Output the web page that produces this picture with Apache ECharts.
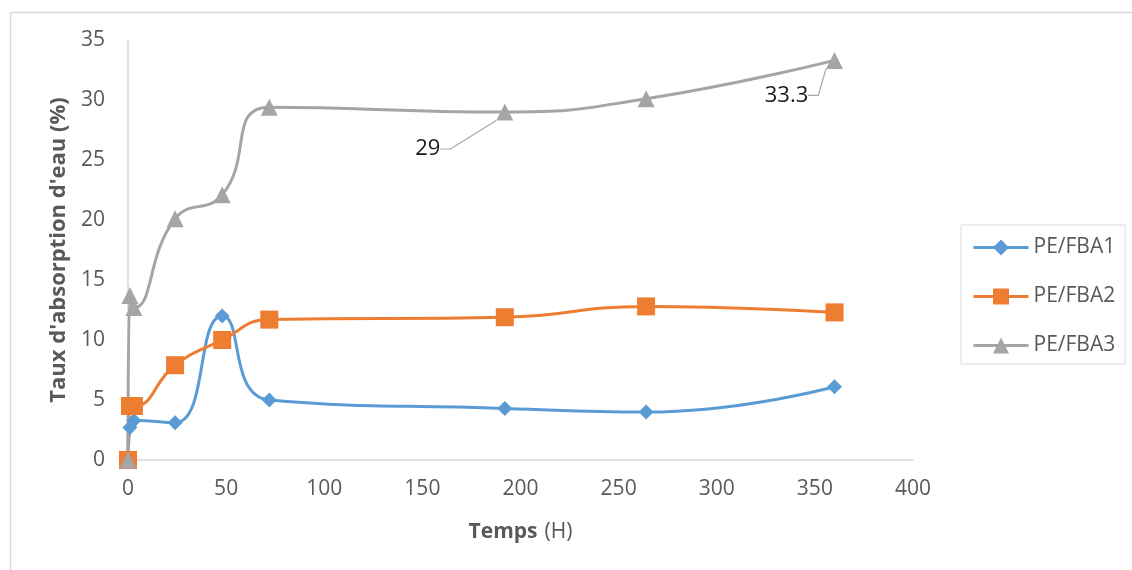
<!DOCTYPE html>
<html>
<head>
<meta charset="utf-8">
<script src="https://cdn.jsdelivr.net/npm/echarts@6/dist/echarts.min.js"></script>
<style>
html,body{margin:0;padding:0;background:#fff;}
#c{width:1132px;height:570px;}
</style>
</head>
<body>
<div id="c"></div>
<script>
// Time (hours)
const times = [0, 1, 3, 24, 48, 72, 192, 264, 360];
// Water absorption rate (%)
const fba1 = [0, 2.7, 3.3, 3.1, 12.0, 5.0, 4.3, 4.0, 6.1];
const fba2 = [0, 4.5, 4.5, 7.9, 10.0, 11.7, 11.9, 12.8, 12.3];
const fba3 = [0, 13.7, 12.7, 20.1, 22.1, 29.4, 29.0, 30.1, 33.3];
const seriesNames = ['PE/FBA1', 'PE/FBA2', 'PE/FBA3'];
const labelledTimes = [192, 360];
const xTicks = [0, 50, 100, 150, 200, 250, 300, 350, 400];
const yTicks = [0, 5, 10, 15, 20, 25, 30, 35];

const FONT = 'Open Sans';
const colors = ['#5B9BD5', '#ED7D31', '#A5A5A5'];

function pts(vals, labelled) {
  return times.map((t, i) => {
    const item = { value: [t, vals[i]] };
    if (labelled && labelledTimes.indexOf(t) >= 0) {
      item.label = { show: true };
    }
    return item;
  });
}

const chart = echarts.init(document.getElementById('c'), null, { renderer: 'canvas' });
chart.setOption({
  backgroundColor: '#fff',
  animation: false,
  color: colors,
  graphic: [{
    type: 'rect', left: 8, top: 10, silent: true,
    shape: { width: 1140, height: 580 },
    style: { fill: 'none', stroke: '#d9d9d9', lineWidth: 1.5 }
  }],
  grid: { left: 128, right: 219, top: 40, bottom: 110, containLabel: false },
  legend: {
    orient: 'vertical',
    left: 961, top: 225,
    padding: [12, 10, 8, 11],
    borderColor: '#d9d9d9', borderWidth: 1,
    itemWidth: 55, itemHeight: 20, itemGap: 28,
    lineStyle: { width: 3 },
    textStyle: { fontFamily: FONT, fontSize: 21, color: '#595959', lineHeight: 21 },
    data: seriesNames
  },
  xAxis: {
    type: 'value', min: xTicks[0], max: xTicks[xTicks.length - 1], interval: 50,
    name: '{b|Temps}{n|(H)}', nameLocation: 'middle', nameGap: 62,
    nameTextStyle: {
      rich: {
        b: { fontFamily: FONT, fontSize: 21, fontWeight: 'bold', color: '#595959' },
        n: { fontFamily: FONT, fontSize: 21, color: '#595959', padding: [0, 0, 0, 7] }
      }
    },
    axisLine: { show: true, lineStyle: { color: '#d9d9d9', width: 1.5 } },
    axisTick: { show: false },
    splitLine: { show: false },
    axisLabel: { fontFamily: FONT, fontSize: 21, color: '#595959', margin: 19 }
  },
  yAxis: {
    type: 'value', min: yTicks[0], max: yTicks[yTicks.length - 1], interval: 5,
    name: "Taux d'absorption d'eau (%)", nameLocation: 'middle', nameGap: 56,
    nameTextStyle: { fontFamily: FONT, fontSize: 22, fontWeight: 'bold', color: '#595959' },
    axisLine: { show: true, lineStyle: { color: '#d9d9d9', width: 1.5 } },
    axisTick: { show: false },
    splitLine: { show: false },
    axisLabel: { fontFamily: FONT, fontSize: 21, color: '#595959', margin: 23 }
  },
  series: [
    {
      name: seriesNames[0], type: 'line', smooth: 0.5,
      data: pts(fba1, false),
      symbol: 'diamond', symbolSize: 15,
      lineStyle: { width: 3, color: colors[0] },
      itemStyle: { color: colors[0] }
    },
    {
      name: seriesNames[1], type: 'line', smooth: 0.5,
      data: pts(fba2, false),
      symbol: 'rect', symbolSize: 18,
      lineStyle: { width: 3, color: colors[1] },
      itemStyle: { color: colors[1] }
    },
    {
      name: seriesNames[2], type: 'line', smooth: 0.5,
      data: pts(fba3, true),
      symbol: 'triangle', symbolSize: 17,
      lineStyle: { width: 3, color: colors[2] },
      itemStyle: { color: colors[2] },
      label: {
        show: false, position: 'inside',
        fontFamily: FONT, fontSize: 22, color: '#1a1a1a',
        formatter: p => String(p.value[1])
      },
      labelLine: { show: true, length2: 10, lineStyle: { color: '#A5A5A5', width: 1.2 } },
      labelLayout: function (p) {
        if (p.dataIndex === 6) return { dx: -77, dy: 37 };
        if (p.dataIndex === 8) return { dx: -48, dy: 35 };
        return {};
      }
    }
  ]
});
</script>
</body>
</html>
